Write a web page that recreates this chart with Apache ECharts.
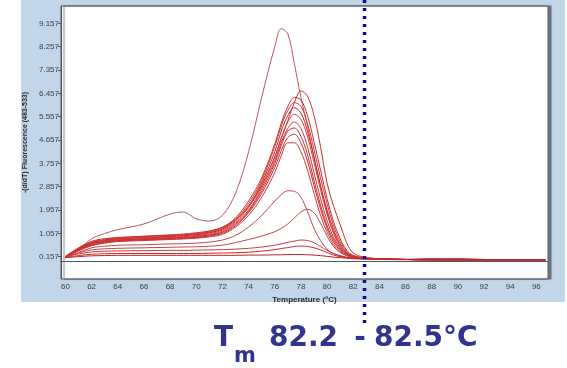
<!DOCTYPE html>
<html>
<head>
<meta charset="utf-8">
<script src="https://cdn.jsdelivr.net/npm/echarts@6/dist/echarts.min.js"></script>
<style>
  html, body { margin: 0; padding: 0; background: #fff; }
  #chart { width: 567px; height: 368px; }
</style>
</head>
<body>
<div id="chart"></div>
<script>
// temperature grid (°C) shared by every melt curve
const temps = [60, 61, 62, 63, 64, 66, 68, 69, 70, 71, 72, 73, 74, 75, 76, 76.5, 77, 77.5, 78, 78.5, 79, 79.5, 80, 80.5, 81, 81.5, 82, 83, 84, 86, 88, 90, 92, 94, 96.7];

// -(d/dT) fluorescence, one array per sample
const tallCurve = [0.15, 0.42, 0.85, 1.05, 1.2, 1.42, 1.8, 1.88, 1.62, 1.53, 1.75, 2.6, 4.2, 6.3, 8.25, 8.95, 8.75, 7.6, 6.3, 5.2, 4.0, 2.9, 1.85, 1.05, 0.55, 0.28, 0.16, 0.08, 0.05, 0.04, 0.04, 0.04, 0.04, 0.04, 0.04];
const c1 = [0.18, 0.5, 0.75, 0.85, 0.9, 0.95, 1.0, 1.03, 1.08, 1.15, 1.3, 1.6, 2.1, 2.9, 4.0, 4.7, 5.4, 6.1, 6.55, 6.35, 5.6, 4.4, 3.0, 2.1, 1.4, 0.7, 0.3, 0.12, 0.08, 0.05, 0.06, 0.05, 0.04, 0.04, 0.04];
const c2 = [0.15, 0.48, 0.72, 0.82, 0.88, 0.93, 0.98, 1.0, 1.05, 1.12, 1.28, 1.65, 2.3, 3.2, 4.5, 5.3, 5.95, 6.3, 6.2, 5.6, 4.6, 3.5, 2.4, 1.5, 0.85, 0.4, 0.2, 0.1, 0.07, 0.05, 0.04, 0.04, 0.04, 0.04, 0.04];
const c3 = [0.16, 0.46, 0.7, 0.8, 0.86, 0.9, 0.95, 0.98, 1.02, 1.1, 1.25, 1.6, 2.2, 3.1, 4.4, 5.2, 5.8, 6.1, 5.95, 5.3, 4.3, 3.2, 2.2, 1.35, 0.75, 0.38, 0.2, 0.1, 0.07, 0.05, 0.04, 0.04, 0.04, 0.04, 0.04];
const c4 = [0.14, 0.45, 0.68, 0.78, 0.84, 0.88, 0.93, 0.96, 1.0, 1.07, 1.22, 1.55, 2.1, 3.0, 4.2, 5.0, 5.6, 5.9, 5.7, 5.0, 4.0, 2.9, 1.95, 1.2, 0.65, 0.33, 0.18, 0.1, 0.06, 0.05, 0.04, 0.04, 0.04, 0.04, 0.04];
const c5 = [0.15, 0.44, 0.66, 0.76, 0.82, 0.86, 0.9, 0.93, 0.97, 1.04, 1.18, 1.5, 2.05, 2.9, 4.0, 4.75, 5.35, 5.65, 5.45, 4.8, 3.8, 2.75, 1.8, 1.1, 0.6, 0.3, 0.17, 0.09, 0.06, 0.05, 0.04, 0.04, 0.04, 0.04, 0.04];
const c6 = [0.13, 0.43, 0.65, 0.74, 0.8, 0.84, 0.88, 0.9, 0.94, 1.0, 1.14, 1.45, 1.95, 2.8, 3.85, 4.55, 5.1, 5.35, 5.1, 4.4, 3.4, 2.4, 1.55, 0.9, 0.5, 0.27, 0.16, 0.09, 0.06, 0.05, 0.04, 0.04, 0.04, 0.04, 0.04];
const c7 = [0.15, 0.42, 0.63, 0.72, 0.78, 0.82, 0.86, 0.88, 0.92, 0.98, 1.1, 1.4, 1.9, 2.7, 3.75, 4.45, 5.0, 5.12, 4.8, 4.1, 3.1, 2.15, 1.35, 0.8, 0.45, 0.25, 0.15, 0.09, 0.06, 0.05, 0.04, 0.04, 0.04, 0.04, 0.04];
const c8 = [0.14, 0.4, 0.6, 0.7, 0.76, 0.8, 0.84, 0.86, 0.9, 0.95, 1.06, 1.35, 1.85, 2.6, 3.6, 4.25, 4.75, 4.88, 4.55, 3.85, 2.9, 2.0, 1.25, 0.72, 0.4, 0.22, 0.14, 0.08, 0.06, 0.05, 0.04, 0.04, 0.04, 0.04, 0.04];
const c9 = [0.13, 0.38, 0.58, 0.68, 0.74, 0.78, 0.82, 0.84, 0.87, 0.92, 1.02, 1.3, 1.75, 2.45, 3.4, 4.05, 4.55, 4.55, 4.2, 3.5, 2.6, 1.75, 1.1, 0.62, 0.35, 0.2, 0.13, 0.08, 0.06, 0.05, 0.04, 0.04, 0.04, 0.04, 0.04];
const s1 = [0.13, 0.32, 0.5, 0.56, 0.6, 0.62, 0.65, 0.66, 0.68, 0.72, 0.8, 0.98, 1.3, 1.75, 2.3, 2.55, 2.7, 2.68, 2.45, 1.9, 1.25, 0.78, 0.45, 0.27, 0.18, 0.12, 0.1, 0.07, 0.06, 0.05, 0.04, 0.04, 0.04, 0.04, 0.04];
const s2 = [0.14, 0.3, 0.42, 0.46, 0.48, 0.5, 0.52, 0.53, 0.54, 0.56, 0.6, 0.7, 0.82, 0.95, 1.12, 1.25, 1.42, 1.65, 1.88, 1.99, 1.85, 1.45, 0.95, 0.55, 0.32, 0.2, 0.14, 0.1, 0.07, 0.05, 0.06, 0.09, 0.05, 0.04, 0.04];
const s3 = [0.15, 0.26, 0.34, 0.37, 0.38, 0.39, 0.4, 0.4, 0.41, 0.42, 0.43, 0.45, 0.48, 0.53, 0.6, 0.65, 0.71, 0.76, 0.8, 0.78, 0.7, 0.55, 0.4, 0.28, 0.2, 0.14, 0.1, 0.12, 0.07, 0.05, 0.09, 0.05, 0.04, 0.04, 0.04];
const s4 = [0.12, 0.2, 0.25, 0.27, 0.28, 0.28, 0.28, 0.28, 0.28, 0.29, 0.3, 0.31, 0.33, 0.37, 0.43, 0.47, 0.51, 0.55, 0.57, 0.55, 0.5, 0.42, 0.32, 0.22, 0.16, 0.12, 0.09, 0.07, 0.06, 0.05, 0.04, 0.04, 0.04, 0.04, 0.04];
const s5 = [0.12, 0.16, 0.19, 0.2, 0.21, 0.21, 0.21, 0.21, 0.21, 0.21, 0.21, 0.21, 0.22, 0.22, 0.23, 0.23, 0.24, 0.24, 0.24, 0.23, 0.22, 0.2, 0.17, 0.14, 0.12, 0.1, 0.08, 0.07, 0.06, 0.05, 0.04, 0.04, 0.04, 0.04, 0.04];

// axis ticks
const xTicks = [60, 62, 64, 66, 68, 70, 72, 74, 76, 78, 80, 82, 84, 86, 88, 90, 92, 94, 96];
const yTicks = [0.157, 1.057, 1.957, 2.857, 3.757, 4.657, 5.557, 6.457, 7.357, 8.257, 9.157];

// Tm marker
const tmMarker = 82.8;

const curves = [tallCurve, c1, c2, c3, c4, c5, c6, c7, c8, c9, s1, s2, s3, s4, s5];
const curveColors = ['#b85a5a', '#cc3030', '#d42a2a', '#c83a3a', '#d02020', '#c84040', '#d83030', '#c03030', '#cc2a2a', '#d03838', '#b85050', '#c04848', '#c83c3c', '#d02828', '#c02020'];

const chart = echarts.init(document.getElementById('chart'));

const series = curves.map((vals, k) => ({
  type: 'line',
  data: temps.map((t, i) => [t, vals[i]]),
  smooth: 0.35,
  symbol: 'none',
  silent: true,
  lineStyle: { color: curveColors[k], width: 1 },
  z: 3
}));

const panel = {
  type: 'rect',
  shape: { x: 21, y: 0, width: 544, height: 302 },
  style: { fill: '#c3d5e8' },
  z: -10
};

chart.setOption({
  animation: false,
  backgroundColor: '#ffffff',
  graphic: [panel],
  grid: {
    left: 61, right: 19, top: 6, bottom: 89,
    show: true,
    backgroundColor: '#ffffff',
    borderColor: '#50565f',
    borderWidth: 1,
    shadowColor: 'rgba(90,100,120,0.8)',
    shadowOffsetX: 3,
    shadowOffsetY: 0,
    shadowBlur: 1
  },
  xAxis: {
    type: 'value',
    min: 59.66,
    max: 96.89,
    name: 'Temperature (°C)',
    nameLocation: 'middle',
    nameGap: 15,
    nameTextStyle: { fontFamily: 'Liberation Sans', fontSize: 8, fontWeight: 'bold', color: '#2a2a2a' },
    axisLine: { show: true, lineStyle: { color: '#50565f' } },
    axisTick: { show: false },
    splitLine: { show: false },
    axisLabel: {
      customValues: xTicks,
      fontFamily: 'Liberation Sans',
      fontSize: 8,
      color: '#404040',
      margin: 4,
      formatter: v => String(v)
    }
  },
  yAxis: {
    type: 'value',
    min: -0.703,
    max: 9.824,
    name: '-(d/dT) Fluorescence (483-533)',
    nameLocation: 'middle',
    nameRotate: 90,
    nameGap: 28,
    nameTextStyle: { fontFamily: 'Liberation Sans', fontSize: 7, fontWeight: 'bold', color: '#2a2a2a' },
    axisLine: { show: true, lineStyle: { color: '#50565f' } },
    axisTick: { show: true, customValues: yTicks, length: 3, lineStyle: { color: '#50565f' } },
    splitLine: { show: false },
    axisLabel: {
      customValues: yTicks,
      fontFamily: 'Liberation Sans',
      fontSize: 8,
      color: '#404040',
      margin: 2,
      formatter: v => v.toFixed(3)
    }
  },
  series: series
});

// dotted Tm line and caption, placed through the x axis scale
const xPix = Math.round(chart.convertToPixel({ xAxisIndex: 0 }, tmMarker));
const navy = '#32338f';
const capStyle = { fontFamily: 'DejaVu Sans', fontWeight: 'bold', fontSize: 28, fill: navy, verticalAlign: 'middle' };
chart.setOption({
  graphic: [
    panel,
    {
      type: 'line',
      shape: { x1: xPix + 0.5, y1: 0, x2: xPix + 0.5, y2: 324 },
      style: { stroke: '#0c0c8f', lineWidth: 3.5, lineDash: [3, 5] },
      z: 100
    },
    { type: 'text', x: 214, y: 339, style: Object.assign({}, capStyle, { text: 'T' }), z: 100 },
    { type: 'text', x: 234, y: 357, style: Object.assign({}, capStyle, { text: 'm', fontSize: 21 }), z: 100 },
    { type: 'text', x: 269, y: 339, style: Object.assign({}, capStyle, { text: '82.2' }), z: 100 },
    { type: 'text', x: 360, y: 339, style: Object.assign({}, capStyle, { text: '-', align: 'center' }), z: 100 },
    { type: 'text', x: 374, y: 339, style: Object.assign({}, capStyle, { text: '82.5°C' }), z: 100 }
  ]
});
</script>
</body>
</html>
